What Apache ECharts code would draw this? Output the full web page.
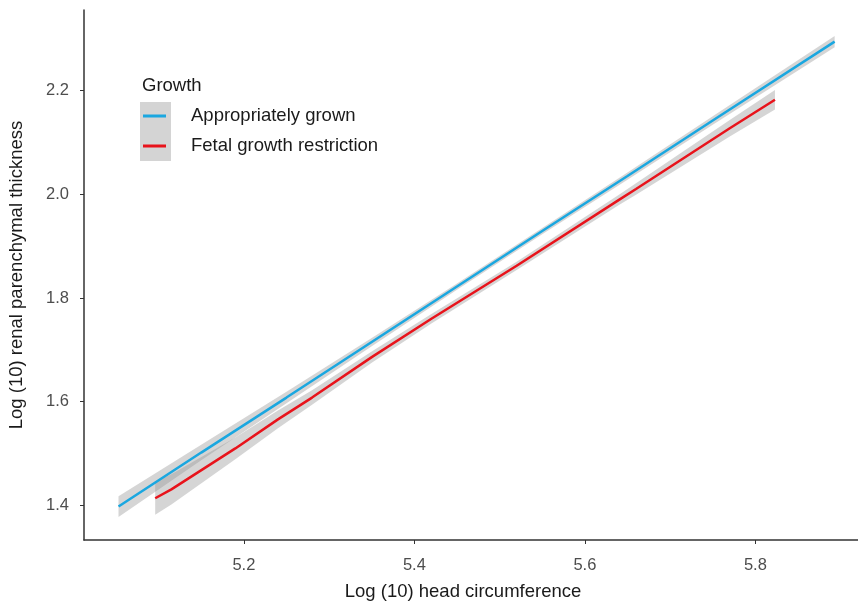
<!DOCTYPE html>
<html>
<head>
<meta charset="utf-8">
<script src="https://cdn.jsdelivr.net/npm/echarts@6/dist/echarts.min.js"></script>
<style>
  html, body { margin: 0; padding: 0; background: #fff; }
  #container { width: 858px; height: 603px; }
</style>
</head>
<body>
<div id="container"></div>
<script>
// appropriately grown: fitted line + confidence band
var agX  = [5.053, 5.15, 5.25, 5.35, 5.45, 5.55, 5.65, 5.75, 5.893];
var agY  = [1.398, 1.502, 1.608, 1.715, 1.822, 1.929, 2.035, 2.142, 2.294];
var agLo = [1.378, 1.487, 1.597, 1.707, 1.816, 1.923, 2.028, 2.134, 2.283];
var agHi = [1.418, 1.517, 1.619, 1.723, 1.828, 1.935, 2.042, 2.150, 2.305];

// fetal growth restriction
var fgrX  = [5.096, 5.115, 5.19, 5.24, 5.28, 5.35, 5.42, 5.52, 5.64, 5.66, 5.77, 5.823];
var fgrY  = [1.414, 1.431, 1.510, 1.566, 1.608, 1.686, 1.760, 1.862, 1.989, 2.010, 2.127, 2.182];
var fgrLo = [1.382, 1.402, 1.489, 1.549, 1.594, 1.675, 1.751, 1.854, 1.979, 1.999, 2.111, 2.163];
var fgrHi = [1.446, 1.460, 1.531, 1.583, 1.622, 1.697, 1.769, 1.870, 1.999, 2.021, 2.143, 2.201];

var xTicks = [5.2, 5.4, 5.6, 5.8];
var yTicks = [1.4, 1.6, 1.8, 2.0, 2.2];

var bandFill = 'rgba(150,150,150,0.4)';
var font = '"Liberation Sans", Arial, sans-serif';

function zip(a, b) {
    var out = [];
    for (var i = 0; i < a.length; i++) out.push([a[i], b[i]]);
    return out;
}

function bandSeries(xs, lo, hi) {
    return {
        type: 'custom',
        silent: true,
        z: 1,
        data: [[xs[0], lo[0]]],
        renderItem: function (params, api) {
            var pts = [];
            for (var i = 0; i < xs.length; i++) pts.push(api.coord([xs[i], hi[i]]));
            for (var j = xs.length - 1; j >= 0; j--) pts.push(api.coord([xs[j], lo[j]]));
            return {
                type: 'polygon',
                shape: {points: pts},
                style: {fill: bandFill}
            };
        }
    };
}

var myChart = echarts.init(document.getElementById('container'));
var option = {
    backgroundColor: '#ffffff',
    animation: false,
    grid: {left: 84, right: 0, top: 10, bottom: 63, outerBoundsMode: 'none', containLabel: false},
    legend: {
        orient: 'vertical',
        left: 143,
        top: 105,
        padding: 0,
        itemGap: 8,
        icon: 'rect',
        itemWidth: 23,
        itemHeight: 3,
        textStyle: {fontFamily: font, fontSize: 18.5, color: '#1a1a1a', lineHeight: 22, padding: [0, 0, 0, 20]},
        data: ['Appropriately grown', 'Fetal growth restriction']
    },
    graphic: [
        {type: 'rect', left: 140, top: 102, z: -1, shape: {width: 31, height: 59}, style: {fill: '#d4d4d4'}},
        {type: 'text', left: 142, top: 76, style: {text: 'Growth', font: '18.5px ' + font, fill: '#1a1a1a'}}
    ],
    xAxis: {
        type: 'value',
        min: 5.0125,
        max: 5.9204,
        name: 'Log (10) head circumference',
        nameLocation: 'middle',
        nameGap: 42,
        nameTextStyle: {fontFamily: font, fontSize: 18.5, color: '#1a1a1a', padding: [0, 16, 0, 0]},
        splitLine: {show: false},
        axisLine: {lineStyle: {color: '#333', width: 1.5}},
        axisTick: {customValues: xTicks, length: 4, lineStyle: {color: '#333'}},
        axisLabel: {customValues: xTicks, margin: 17, fontFamily: font, fontSize: 16.5, color: '#4d4d4d',
            formatter: function (v) { return v.toFixed(1); }}
    },
    yAxis: {
        type: 'value',
        min: 1.3335,
        max: 2.355,
        name: 'Log (10) renal parenchymal thickness',
        nameLocation: 'middle',
        nameGap: 58,
        nameTextStyle: {fontFamily: font, fontSize: 18.5, color: '#1a1a1a'},
        splitLine: {show: false},
        axisLine: {show: true, lineStyle: {color: '#333', width: 1.5}},
        axisTick: {show: true, customValues: yTicks, length: 4, lineStyle: {color: '#333'}},
        axisLabel: {customValues: yTicks, margin: 15, fontFamily: font, fontSize: 16.5, color: '#4d4d4d',
            formatter: function (v) { return v.toFixed(1); }}
    },
    series: [
        bandSeries(agX, agLo, agHi),
        bandSeries(fgrX, fgrLo, fgrHi),
        {
            name: 'Appropriately grown',
            type: 'line',
            z: 3,
            showSymbol: false,
            itemStyle: {color: '#1aa7e0'},
            lineStyle: {color: '#1aa7e0', width: 2.5},
            data: zip(agX, agY)
        },
        {
            name: 'Fetal growth restriction',
            type: 'line',
            z: 3,
            showSymbol: false,
            itemStyle: {color: '#e8131b'},
            lineStyle: {color: '#e8131b', width: 2.5},
            data: zip(fgrX, fgrY)
        }
    ]
};
myChart.setOption(option);
</script>
</body>
</html>
